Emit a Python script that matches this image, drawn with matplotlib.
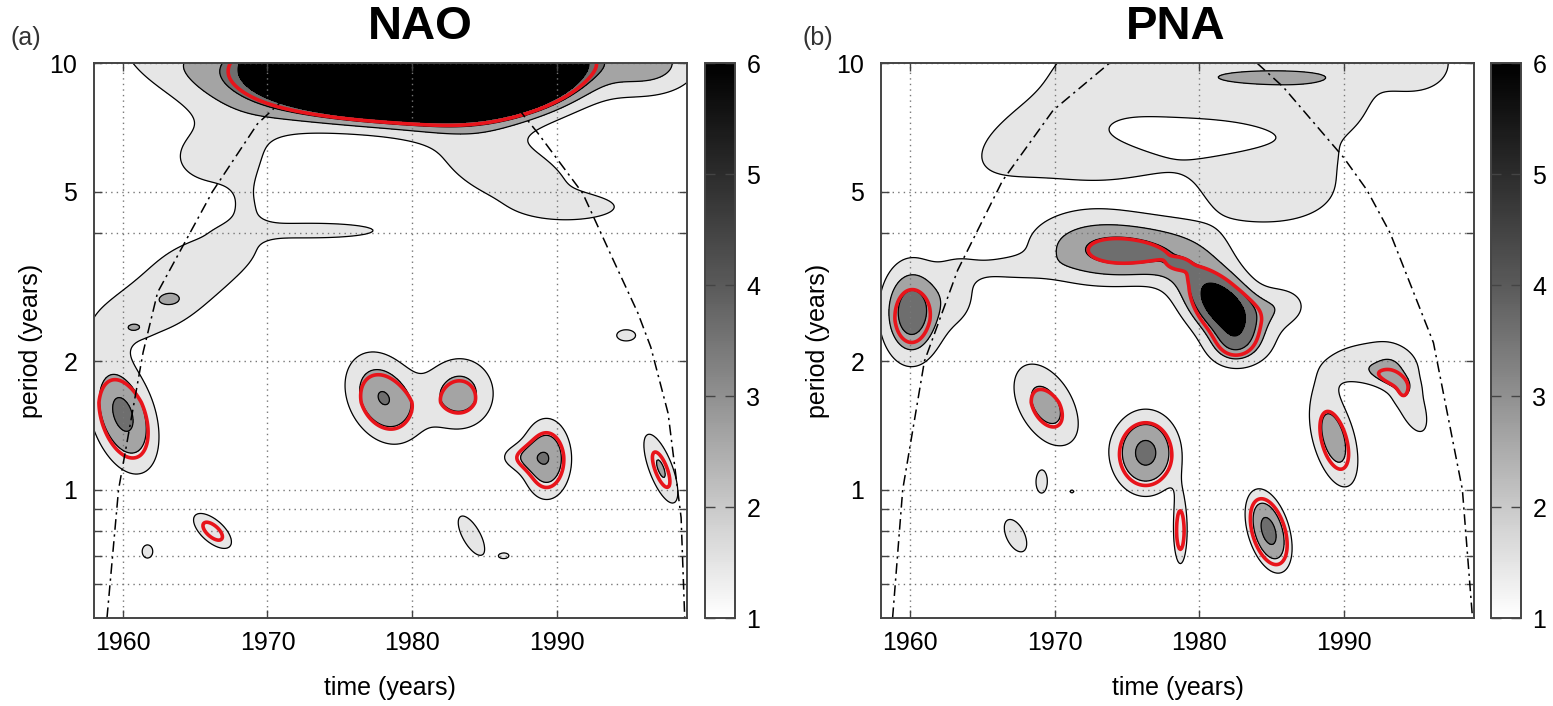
import numpy as np
import matplotlib
matplotlib.use("Agg")
import matplotlib.pyplot as plt
from matplotlib.colors import LinearSegmentedColormap, Normalize
from matplotlib.cm import ScalarMappable

plt.rcParams['font.family'] = ['Liberation Sans', 'DejaVu Sans']

# power "blobs": centre time, centre period, peak power,
# spread in time (yr), spread in log2 period (octaves), tilt (yr per octave)
nao_t = [1965.5, 1972.5, 1978.0, 1984.0, 1991.0, 1996.5, 1986.5, 1991.5,
         1961.5, 1965.5, 1968.6, 1966.5, 1973.5,
         1960.0, 1963.3, 1960.8, 1966.2, 1961.7,
         1978.0, 1983.3, 1989.3, 1987.3, 1997.2, 1984.1, 1986.4, 1994.8]
nao_p = [9.5, 10.0, 10.0, 10.0, 10.0, 10.0, 5.6, 4.6,
         2.6, 3.4, 4.4, 6.0, 4.05,
         1.5, 2.79, 2.39, 0.8, 0.716,
         1.64, 1.68, 1.18, 1.19, 1.12, 0.78, 0.70, 2.3]
nao_amp = [1.8, 3.0, 32.0, 34.0, 1.0, 2.2, 1.55, 1.0,
           1.55, 1.55, 0.8, 1.4, 1.8,
           3.3, 0.6, 0.7, 1.9, 1.3,
           3.05, 2.5, 2.8, 1.1, 2.1, 1.5, 1.2, 1.3]
nao_st = [3.8, 3.5, 4.0, 3.6, 3.5, 2.5, 3.8, 2.5,
          3.0, 2.8, 1.1, 3.0, 3.5,
          1.5, 0.5, 0.6, 0.9, 0.5,
          1.7, 1.7, 1.2, 1.2, 0.7, 0.75, 0.45, 0.9]
nao_sp = [0.3, 0.22, 0.2, 0.2, 0.22, 0.18, 0.3, 0.07,
          0.2, 0.2, 0.2, 0.22, 0.05,
          0.3, 0.03, 0.035, 0.12, 0.07,
          0.24, 0.2, 0.22, 0.08, 0.22, 0.17, 0.03, 0.06]
nao_tilt = [-10, 0, 0, 0, 0, 0, -8, 0,
            6, 5, 0, 0, 0,
            -2, 0, 0, -6, 0,
            -2, 0, 0, 0, -3, -4, 0, 0]

pna_t = [1968.5, 1981.0, 1988.0, 1995.5, 1981.0, 1985.5, 1972.5, 1985.0, 1974.0,
         1960.1, 1963.3, 1966.5, 1972.0, 1976.0, 1981.6, 1985.8, 1982.3, 1978.5,
         1969.4, 1969.1, 1971.2, 1967.3, 1976.3, 1978.7, 1984.8,
         1989.3, 1991.8, 1994.6, 1993.1, 1994.0]
pna_p = [7.0, 8.0, 7.5, 10.0, 6.7, 4.9, 6.0, 9.3, 10.0,
         2.6, 2.9, 3.3, 3.75, 3.6, 2.7, 2.7, 2.15, 3.37,
         1.58, 1.04, 0.99, 0.78, 1.22, 0.8, 0.8,
         1.32, 1.98, 1.6, 1.82, 1.68]
pna_amp = [1.3, 1.35, 1.2, 1.3, -1.6, 1.2, 1.3, 1.2, 1.1,
           3.7, 1.3, 1.15, 1.6, 2.6, 5.0, 1.4, 1.6, 0.6,
           2.4, 1.4, 1.1, 1.5, 3.3, 1.95, 3.4,
           2.5, 1.7, 1.5, 0.8, 0.4]
pna_st = [3.0, 5.5, 3.5, 2.0, 4.0, 3.5, 3.5, 3.5, 3.0,
          1.4, 1.2, 2.2, 3.2, 3.5, 1.8, 1.4, 1.3, 0.5,
          1.5, 0.45, 0.25, 0.75, 1.6, 0.4, 0.95,
          1.1, 2.5, 1.0, 0.9, 0.35]
pna_sp = [0.35, 0.45, 0.4, 0.2, 0.09, 0.2, 0.15, 0.05, 0.2,
          0.26, 0.22, 0.07, 0.22, 0.16, 0.22, 0.12, 0.12, 0.03,
          0.24, 0.1, 0.02, 0.14, 0.22, 0.22, 0.21,
          0.28, 0.14, 0.25, 0.06, 0.05]
pna_tilt = [7, 0, 5, 0, 0, 0, 0, 0, 0,
            0, 0, 0, 0, 0, -4, 0, 0, 0,
            -3, 0, 0, -3, 0, 0, -2,
            -2, 0, -3, -10, 0]

# 95% significance level versus period
sig_period = [0.5, 0.8, 1.2, 1.6, 1.9, 2.5, 3.0, 5.0, 10.0]
sig_level = [1.5, 1.6, 1.75, 1.95, 2.35, 2.6, 3.0, 3.2, 3.4]

# cone of influence
nao_coi_l_t = [1958.9, 1959.7, 1961.4, 1962.4, 1966.2, 1969.3, 1971.4, 1973.5]
nao_coi_l_p = [0.5, 1.0, 2.1, 2.9, 5.0, 7.2, 8.4, 10.0]
nao_coi_r_t = [1984.0, 1987.5, 1988.7, 1991.8, 1993.9, 1995.6, 1996.5, 1997.7,
               1998.6, 1998.85]
nao_coi_r_p = [10.0, 7.7, 6.85, 4.95, 3.46, 2.6, 2.16, 1.51, 0.86, 0.5]
pna_coi_l_t = [1958.8, 1959.5, 1961.0, 1963.3, 1966.4, 1969.9, 1973.8]
pna_coi_l_p = [0.5, 1.0, 2.0, 3.27, 5.3, 7.75, 10.0]
pna_coi_r_t = [1984.0, 1985.8, 1990.0, 1991.6, 1993.2, 1996.2, 1998.2, 1998.9]
pna_coi_r_p = [10.0, 8.8, 6.0, 5.04, 4.0, 2.21, 1.0, 0.5]

levels = [1, 2, 3, 4]
fill_colors = ['#e6e6e6', '#a4a4a4', '#6e6e6e', '#000000']
cmap = LinearSegmentedColormap.from_list(
    'wps', [(0, '#ffffff'), (0.2, '#c9c9c9'), (0.4, '#909090'),
            (0.6, '#5a5a5a'), (0.8, '#2c2c2c'), (1, '#000000')])
norm = Normalize(1, 6)

tt = np.linspace(1958, 1999, 500)
lpp = np.linspace(-1, np.log2(10), 400)
T, LP = np.meshgrid(tt, lpp)
P = 2.0 ** LP


def power(bt, bp, ba, bst, bsp, btilt):
    z = np.zeros_like(T)
    for t0, p0, a, st, sp, tl in zip(bt, bp, ba, bst, bsp, btilt):
        v = LP - np.log2(p0)
        u = T - t0 - tl * v
        z += a * np.exp(-0.5 * ((u / st) ** 2 + (v / sp) ** 2))
    return z


thr = np.interp(LP, np.log2(sig_period), sig_level)

fig = plt.figure(figsize=(15.53, 7.06), dpi=100)

panels = [
    (0.0605, 0.454, 'NAO', '(a)', 420, 10,
     power(nao_t, nao_p, nao_amp, nao_st, nao_sp, nao_tilt),
     (nao_coi_l_t, nao_coi_l_p, nao_coi_r_t, nao_coi_r_p)),
    (0.5673, 0.960, 'PNA', '(b)', 1176, 803,
     power(pna_t, pna_p, pna_amp, pna_st, pna_sp, pna_tilt),
     (pna_coi_l_t, pna_coi_l_p, pna_coi_r_t, pna_coi_r_p)),
]

for x0, cx0, name, tag, tx, ax_, Z, coi in panels:
    ax = fig.add_axes([x0, 0.1246, 0.3818, 0.786])
    ax.contourf(T, P, Z, levels=levels + [1e6], colors=fill_colors)
    ax.contour(T, P, Z, levels=levels, colors='k', linewidths=0.9)
    ax.contour(T, P, Z / thr, levels=[1.0], colors='#e8141b', linewidths=2.6)
    ax.plot(coi[0], coi[1], color='k', lw=1.1, ls=(0, (7, 3, 1.5, 3)))
    ax.plot(coi[2], coi[3], color='k', lw=1.1, ls=(0, (7, 3, 1.5, 3)))
    ax.set_yscale('log')
    ax.set_xlim(1958, 1999)
    ax.set_ylim(0.5, 10)
    ax.set_xticks([1960, 1970, 1980, 1990])
    ax.set_yticks([1, 2, 5, 10])
    ax.set_yticklabels(['1', '2', '5', '10'])
    ax.set_yticks([0.6, 0.7, 0.8, 0.9, 4], minor=True)
    ax.yaxis.set_minor_formatter(plt.NullFormatter())
    ax.grid(True, which='both', axis='y', color='#777777', lw=1.0, ls=(0, (1, 3)))
    ax.grid(True, which='major', axis='x', color='#777777', lw=1.0, ls=(0, (1, 3)))
    ax.tick_params(which='both', direction='in', top=True, right=True,
                   length=6, width=1, color='#444444', labelsize=18)
    ax.tick_params(axis='x', pad=9)
    ax.tick_params(axis='y', pad=12)
    for s in ax.spines.values():
        s.set_color('#444444')
        s.set_linewidth(1.4)
    ax.set_xlabel('time (years)', fontsize=18)
    ax.set_ylabel('period (years)', fontsize=18)
    ax.xaxis.set_label_coords(0.5, -0.105)
    ax.yaxis.set_label_coords(-0.086, 0.5)

    cax = fig.add_axes([cx0, 0.1246, 0.0195, 0.786])
    cb = fig.colorbar(ScalarMappable(norm=norm, cmap=cmap), cax=cax,
                      ticks=[1, 2, 3, 4, 5, 6])
    cb.outline.set_edgecolor('#444444')
    cb.outline.set_linewidth(1.4)
    cax.tick_params(direction='in', left=True, right=True, length=7,
                    width=1, color='#444444', labelsize=18, pad=8)

    fig.text(tx / 1553, 1 - 27 / 706, name, fontsize=34, fontweight='bold',
             ha='center', va='center')
    fig.text(ax_ / 1553, 1 - 38 / 706, tag, fontsize=18, ha='left', va='center',
             color='#333333')

fig.savefig('out.png', dpi=100)
